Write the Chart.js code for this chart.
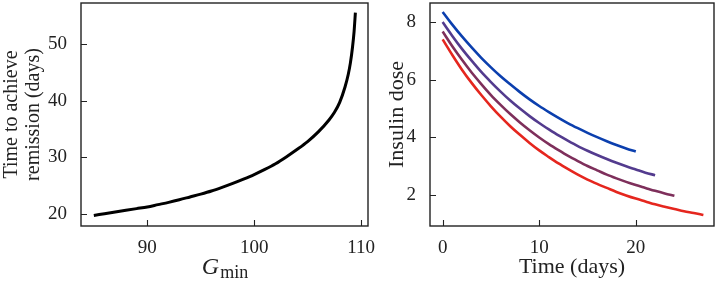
<!DOCTYPE html>
<html>
<head>
<meta charset="utf-8">
<script src="https://cdn.jsdelivr.net/npm/chart.js@4.4.1/dist/chart.umd.min.js"></script>
<style>
  html, body { margin: 0; padding: 0; background: #fff; }
  #wrap { position: relative; width: 720px; height: 282px; }
  canvas { position: absolute; top: 0; }
</style>
</head>
<body>
<div id="wrap">
  <canvas id="leftChart" width="380" height="282" style="left:0"></canvas>
  <canvas id="rightChart" width="340" height="282" style="left:380px"></canvas>
</div>
<script>
// left panel: time to remission vs G_min
const gMin = [85, 86, 87, 88, 89, 90, 91, 92, 93, 94, 95, 96, 97, 98, 99, 100, 101, 102, 103, 104, 105, 106,
    107, 107.5, 108, 108.5, 108.8, 109, 109.2, 109.35, 109.47];
const remissionDays = [19.8, 20.1, 20.4, 20.7, 21.0, 21.3, 21.7, 22.1, 22.55, 23.05, 23.55, 24.1, 24.75, 25.45, 26.2, 27.0, 27.9, 28.9, 30.1, 31.4, 32.8, 34.5,
    36.6, 37.9, 39.7, 42.4, 44.6, 46.6, 49.4, 52.2, 55.5];
const gTicks = [90, 100, 110];
const remissionTicks = [20, 30, 40, 50];

// right panel: insulin dose over time, four runs (one value per day)
const dose1 = [8.35, 7.91, 7.50, 7.12, 6.76, 6.43, 6.12, 5.84, 5.57, 5.32, 5.09, 4.88, 4.68, 4.49, 4.32, 4.16, 4.01, 3.87, 3.74, 3.62, 3.51];
const dose2 = [8.00, 7.52, 7.07, 6.66, 6.27, 5.92, 5.59, 5.28, 5.00, 4.74, 4.50, 4.28, 4.07, 3.88, 3.70, 3.54, 3.39, 3.25, 3.12, 3.00, 2.89, 2.78, 2.69];
const dose3 = [7.67, 7.16, 6.69, 6.25, 5.85, 5.47, 5.13, 4.81, 4.52, 4.25, 4.00, 3.77, 3.56, 3.36, 3.18, 3.01, 2.86, 2.71, 2.58, 2.46, 2.35, 2.25, 2.15, 2.06, 1.98];
const dose4 = [7.40, 6.86, 6.35, 5.89, 5.47, 5.08, 4.72, 4.39, 4.09, 3.81, 3.55, 3.32, 3.10, 2.90, 2.71, 2.54, 2.39, 2.25, 2.11, 1.99, 1.88, 1.78, 1.68, 1.60, 1.52, 1.44, 1.38, 1.31];
const doseColors = ['#0b3fae', '#533b8e', '#7e2f5b', '#e5261e'];
const dayTicks = [0, 10, 20];
const doseTicks = [2, 4, 6, 8];

const FONT = "'Liberation Serif', 'Times New Roman', serif";
const INK = '#222';
Chart.defaults.font.family = FONT;
Chart.defaults.font.size = 19;
Chart.defaults.color = INK;

function pts(xs, ys) {
    return xs.map((x, i) => ({ x: x, y: ys[i] }));
}

// frame + inward ticks, like the matplotlib original
const framePlugin = {
    id: 'frame',
    afterDatasetsDraw(chart) {
        const { ctx, chartArea: a, scales } = chart;
        ctx.save();
        ctx.strokeStyle = INK;
        ctx.lineWidth = 1.4;
        ctx.strokeRect(a.left, a.top, a.right - a.left, a.bottom - a.top);
        ctx.lineWidth = 1.1;
        ctx.beginPath();
        scales.x.ticks.forEach(t => {
            const px = Math.round(scales.x.getPixelForValue(t.value)) + 0.5;
            ctx.moveTo(px, a.bottom);
            ctx.lineTo(px, a.bottom - 6);
        });
        scales.y.ticks.forEach(t => {
            const py = Math.round(scales.y.getPixelForValue(t.value)) + 0.5;
            ctx.moveTo(a.left, py);
            ctx.lineTo(a.left + 6, py);
        });
        ctx.stroke();
        ctx.restore();
    }
};

// axis titles drawn by hand (two-line y title, subscript on G)
const titlePlugin = {
    id: 'titles',
    afterDraw(chart, args, opts) {
        const ctx = chart.ctx;
        const a = chart.chartArea;
        const midY = (a.top + a.bottom) / 2;
        const midX = (a.left + a.right) / 2;
        ctx.save();
        ctx.fillStyle = INK;
        ctx.textAlign = 'center';
        ctx.textBaseline = 'middle';
        ctx.font = opts.ySize + 'px ' + FONT;
        opts.yLines.forEach((line, i) => {
            ctx.save();
            ctx.translate(opts.yPos[i], midY);
            ctx.rotate(-Math.PI / 2);
            ctx.fillText(line, 0, 0);
            ctx.restore();
        });
        ctx.textBaseline = 'alphabetic';
        if (opts.xSub) {
            ctx.font = 'italic 24px ' + FONT;
            const w1 = ctx.measureText(opts.xText).width;
            ctx.font = '18px ' + FONT;
            const w2 = ctx.measureText(opts.xSub).width;
            const x0 = midX - (w1 + w2) / 2;
            ctx.textAlign = 'left';
            ctx.font = 'italic 24px ' + FONT;
            ctx.fillText(opts.xText, x0, opts.xBase);
            ctx.font = '18px ' + FONT;
            ctx.fillText(opts.xSub, x0 + w1 + 1, opts.xBase + 4);
        } else {
            ctx.font = '22px ' + FONT;
            ctx.fillText(opts.xText, midX, opts.xBase);
        }
        ctx.restore();
    }
};

function axes(xMin, xMax, xTicks, yMin, yMax, yTicks, yWidth) {
    return {
        x: {
            type: 'linear',
            min: xMin,
            max: xMax,
            grid: { display: false },
            border: { display: false },
            ticks: { padding: 3, maxRotation: 0 },
            afterBuildTicks: s => { s.ticks = xTicks.map(v => ({ value: v })); },
            afterFit: s => {
                s.height = 56;
                s.paddingLeft = 0;
                s.paddingRight = 0;
            }
        },
        y: {
            type: 'linear',
            min: yMin,
            max: yMax,
            grid: { display: false },
            border: { display: false },
            ticks: { padding: 6 },
            afterBuildTicks: s => { s.ticks = yTicks.map(v => ({ value: v })); },
            afterFit: s => {
                s.width = yWidth;
                s.paddingTop = 0;
                s.paddingBottom = 0;
            }
        }
    };
}

new Chart(document.getElementById('leftChart'), {
    type: 'line',
    data: {
        datasets: [{
            data: pts(gMin, remissionDays),
            borderColor: '#000',
            borderWidth: 3,
            pointRadius: 0,
            cubicInterpolationMode: 'monotone'
        }]
    },
    options: {
        responsive: false,
        animation: false,
        layout: { padding: { left: 0, top: 3, right: 12, bottom: 0 } },
        scales: axes(83.8, 110.65, gTicks, 17.94, 57.18, remissionTicks, 81),
        plugins: {
            legend: { display: false },
            tooltip: { enabled: false },
            titles: {
                yLines: ['Time to achieve', 'remission (days)'],
                yPos: [12, 34],
                ySize: 20,
                xText: 'G',
                xSub: 'min',
                xBase: 274
            }
        }
    },
    plugins: [framePlugin, titlePlugin]
});

const doseSets = [dose1, dose2, dose3, dose4];

new Chart(document.getElementById('rightChart'), {
    type: 'line',
    data: {
        datasets: doseSets.map((d, i) => ({
            data: d.map((v, t) => ({ x: t, y: v })),
            borderColor: doseColors[i],
            borderWidth: 2.6,
            pointRadius: 0,
            cubicInterpolationMode: 'monotone'
        }))
    },
    options: {
        responsive: false,
        animation: false,
        layout: { padding: { left: 0, top: 3, right: 6, bottom: 0 } },
        scales: axes(-1.31, 28.1, dayTicks, 0.93, 8.66, doseTicks, 50),
        plugins: {
            legend: { display: false },
            tooltip: { enabled: false },
            titles: {
                yLines: ['Insulin dose'],
                yPos: [17],
                ySize: 22,
                xText: 'Time (days)',
                xBase: 273
            }
        }
    },
    plugins: [framePlugin, titlePlugin]
});
</script>
</body>
</html>
